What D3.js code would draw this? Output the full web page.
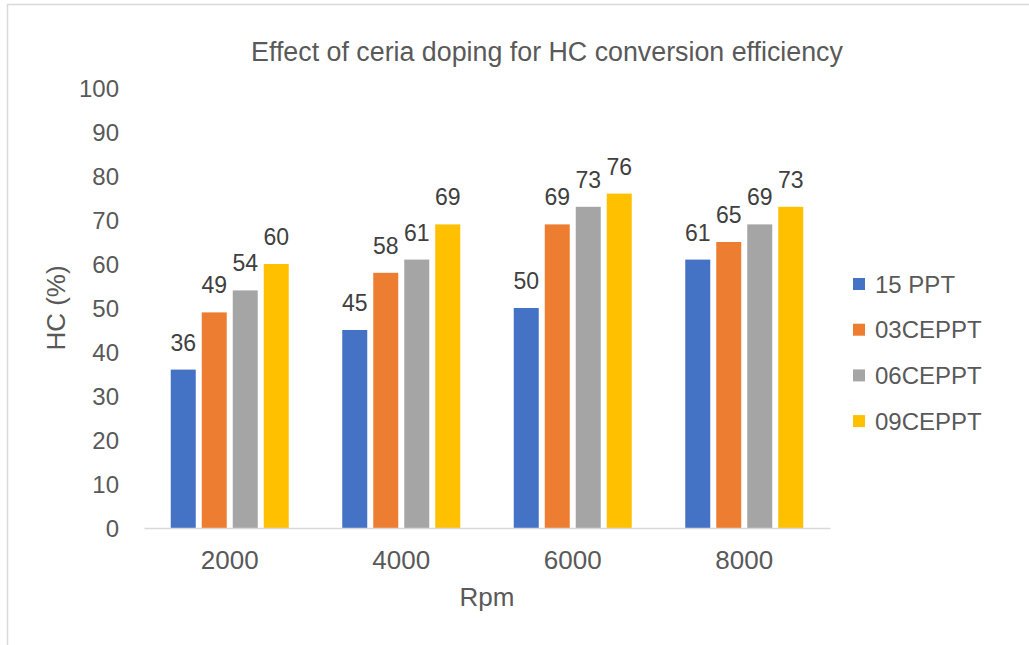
<!DOCTYPE html>
<html>
<head>
<meta charset="utf-8">
<script src="https://cdn.jsdelivr.net/npm/d3@7/dist/d3.min.js"></script>
<style>
  html, body { margin: 0; padding: 0; background: #fff; }
  svg { display: block; font-family: "Liberation Sans", Arial, sans-serif; }
</style>
</head>
<body>
<svg id="chart" width="1029" height="645"></svg>
<script>
// Rpm categories and HC conversion (%) per catalyst
const categories = ["2000", "4000", "6000", "8000"];
const seriesNames = ["15 PPT", "03CEPPT", "06CEPPT", "09CEPPT"];
const ppt15   = [36, 45, 50, 61];
const ce03ppt = [49, 58, 69, 65];
const ce06ppt = [54, 61, 73, 69];
const ce09ppt = [60, 69, 76, 73];
const yTicks = [0, 10, 20, 30, 40, 50, 60, 70, 80, 90, 100];

const seriesValues = [ppt15, ce03ppt, ce06ppt, ce09ppt];
const colors = ["#4472C4", "#ED7D31", "#A5A5A5", "#FFC000"];

const svg = d3.select("#chart");

// outer chart border
svg.append("rect")
  .attr("x", 7.5).attr("y", 4.5)
  .attr("width", 1030).attr("height", 660)
  .attr("fill", "none").attr("stroke", "#d9d9d9").attr("stroke-width", 1.5);

const plot = { left: 144, right: 830, top: 88, bottom: 528 };

const x = d3.scaleBand()
  .domain(categories)
  .range([plot.left, plot.right])
  .paddingInner(0).paddingOuter(0);

const groupInner = 118;
const x1 = d3.scaleBand()
  .domain(seriesNames)
  .range([0, groupInner])
  .paddingInner(6 / 31).paddingOuter(0);

const y = d3.scaleLinear().domain([0, 100]).range([plot.bottom, plot.top]);

// title
svg.append("text")
  .attr("x", 547).attr("y", 61)
  .attr("text-anchor", "middle")
  .attr("font-size", 26.8)
  .attr("fill", "#595959")
  .text("Effect of ceria doping for HC conversion efficiency");

// y axis labels (no line, no gridlines)
const yAxis = d3.axisLeft(y).tickValues(yTicks).tickSize(0).tickPadding(0);
const gy = svg.append("g").attr("transform", `translate(119,0)`).call(yAxis);
gy.select(".domain").remove();
gy.selectAll("text")
  .attr("font-size", 24)
  .attr("fill", "#595959")
  .attr("font-family", "'Liberation Sans', Arial, sans-serif")
  .attr("dy", "0.36em");

// bars
const groups = svg.append("g").selectAll("g")
  .data(categories)
  .join("g")
  .attr("transform", c => `translate(${x(c) + (x.bandwidth() - groupInner) / 2},0)`);

groups.selectAll("rect")
  .data((c, i) => seriesNames.map((s, k) => ({ s, k, v: seriesValues[k][i] })))
  .join("rect")
  .attr("x", d => x1(d.s))
  .attr("y", d => y(d.v))
  .attr("width", x1.bandwidth())
  .attr("height", d => y(0) - y(d.v))
  .attr("fill", d => colors[d.k]);

// data labels
groups.selectAll("text.lbl")
  .data((c, i) => seriesNames.map((s, k) => ({ s, k, v: seriesValues[k][i] })))
  .join("text")
  .attr("class", "lbl")
  .attr("x", d => x1(d.s) + x1.bandwidth() / 2)
  .attr("y", d => y(d.v) - 19)
  .attr("text-anchor", "middle")
  .attr("font-size", 23)
  .attr("fill", "#404040")
  .text(d => d.v);

// x axis
const xAxis = d3.axisBottom(x).tickSize(0).tickPadding(0);
const gx = svg.append("g").attr("transform", `translate(0,${plot.bottom})`).call(xAxis);
gx.select(".domain").attr("stroke", "#d9d9d9").attr("stroke-width", 1.5);
gx.selectAll("text")
  .attr("font-size", 26)
  .attr("fill", "#595959")
  .attr("font-family", "'Liberation Sans', Arial, sans-serif")
  .attr("dy", null)
  .attr("y", 41);

// axis titles
svg.append("text")
  .attr("x", (plot.left + plot.right) / 2).attr("y", 606)
  .attr("text-anchor", "middle")
  .attr("font-size", 26).attr("fill", "#595959")
  .text("Rpm");

svg.append("text")
  .attr("transform", `translate(65,${(plot.top + plot.bottom) / 2}) rotate(-90)`)
  .attr("text-anchor", "middle")
  .attr("font-size", 26).attr("fill", "#595959")
  .text("HC (%)");

// legend
const legend = svg.append("g").selectAll("g")
  .data(seriesNames)
  .join("g")
  .attr("transform", (d, i) => `translate(853,${284 + i * 45.7})`);
legend.append("rect")
  .attr("x", 0).attr("y", -6)
  .attr("width", 12).attr("height", 12)
  .attr("fill", (d, i) => colors[i]);
legend.append("text")
  .attr("x", 22).attr("y", 0)
  .attr("dy", "0.36em")
  .attr("font-size", 24).attr("fill", "#595959")
  .text(d => d);
</script>
</body>
</html>
